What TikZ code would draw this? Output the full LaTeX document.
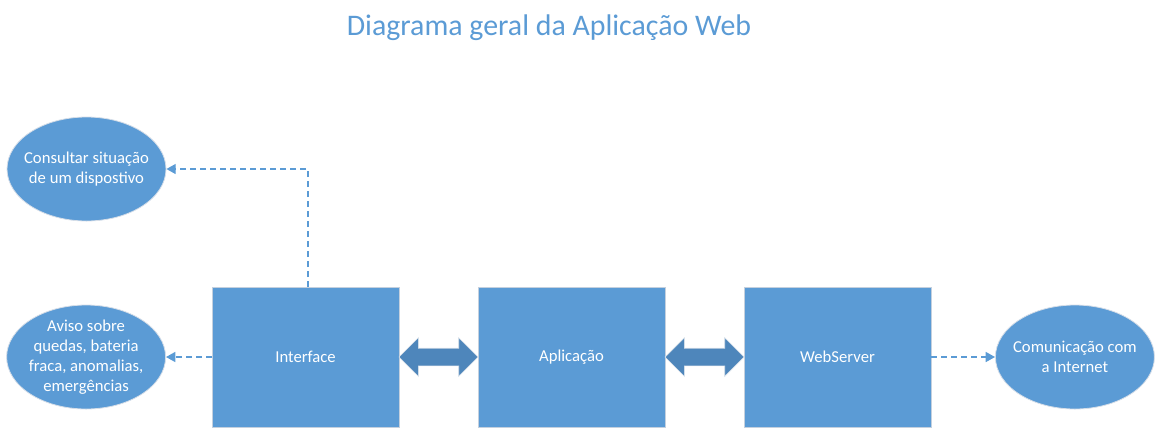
\documentclass[tikz,border=0pt]{standalone}
\usepackage{fontspec}
\setmainfont{Carlito}
\usepackage{tikz}
\usetikzlibrary{arrows.meta,positioning,shapes.geometric,shapes.arrows}
\definecolor{boxblue}{RGB}{91,155,213}
\definecolor{linkblue}{RGB}{78,134,187}
\definecolor{rimgray}{RGB}{196,208,222}

\begin{document}
\begin{tikzpicture}[x=0.75pt,y=-0.75pt,>={Triangle[length=7pt,width=7.5pt]},
  block node/.style={rectangle,fill=boxblue,draw=rimgray,line width=0.7pt,outer sep=0pt,
    minimum width=140.25pt,minimum height=105pt,text=white,
    font=\fontsize{12.5}{15}\selectfont},
  goal node/.style={ellipse,fill=boxblue,draw=rimgray!70,line width=0.6pt,
    minimum width=119.25pt,minimum height=78pt,inner sep=-12pt,align=center,
    text=white,font=\fontsize{12.5}{15}\selectfont},
  link node/.style={double arrow,fill=linkblue,draw=rimgray!60,line width=0.5pt,outer sep=0pt,
    inner xsep=0pt,inner ysep=6.375pt,double arrow head extend=7.875pt,
    minimum height=59.25pt},
  dash edge/.style={->,draw=boxblue,dash pattern=on 4.5pt off 3pt,line width=1.1pt}]
  \useasboundingbox (0,0) rectangle (1162,437);

  \node[text=boxblue,font=\fontsize{22.4}{26}\selectfont] (title) at (549,28) {Diagrama geral da Aplicação Web};

  \node[block node] (iface) at (305.5,357) {Interface};
  \node[link node] (link1) [right=0pt of iface] {};
  \node[block node] (app) [right=0pt of link1] {Aplicação};
  \node[link node] (link2) [right=0pt of app] {};
  \node[block node] (web) [right=0pt of link2] {WebServer};

  \node[goal node] (consult) at (86.5,169) {Consultar situação\\de um dispostivo};
  \node[goal node] (aviso) [left=34.5pt of iface] {Aviso sobre\\quedas, bateria\\fraca, anomalias,\\emergências};
  \node[goal node] (net) [right=48pt of web] {Comunicação com\\a Internet};

  \draw[dash edge] ([xshift=2pt]iface.north) |- (consult.east);
  \draw[dash edge] (iface.west) -- (aviso.east);
  \draw[dash edge] (web.east) -- (net.west);
\end{tikzpicture}
\end{document}
